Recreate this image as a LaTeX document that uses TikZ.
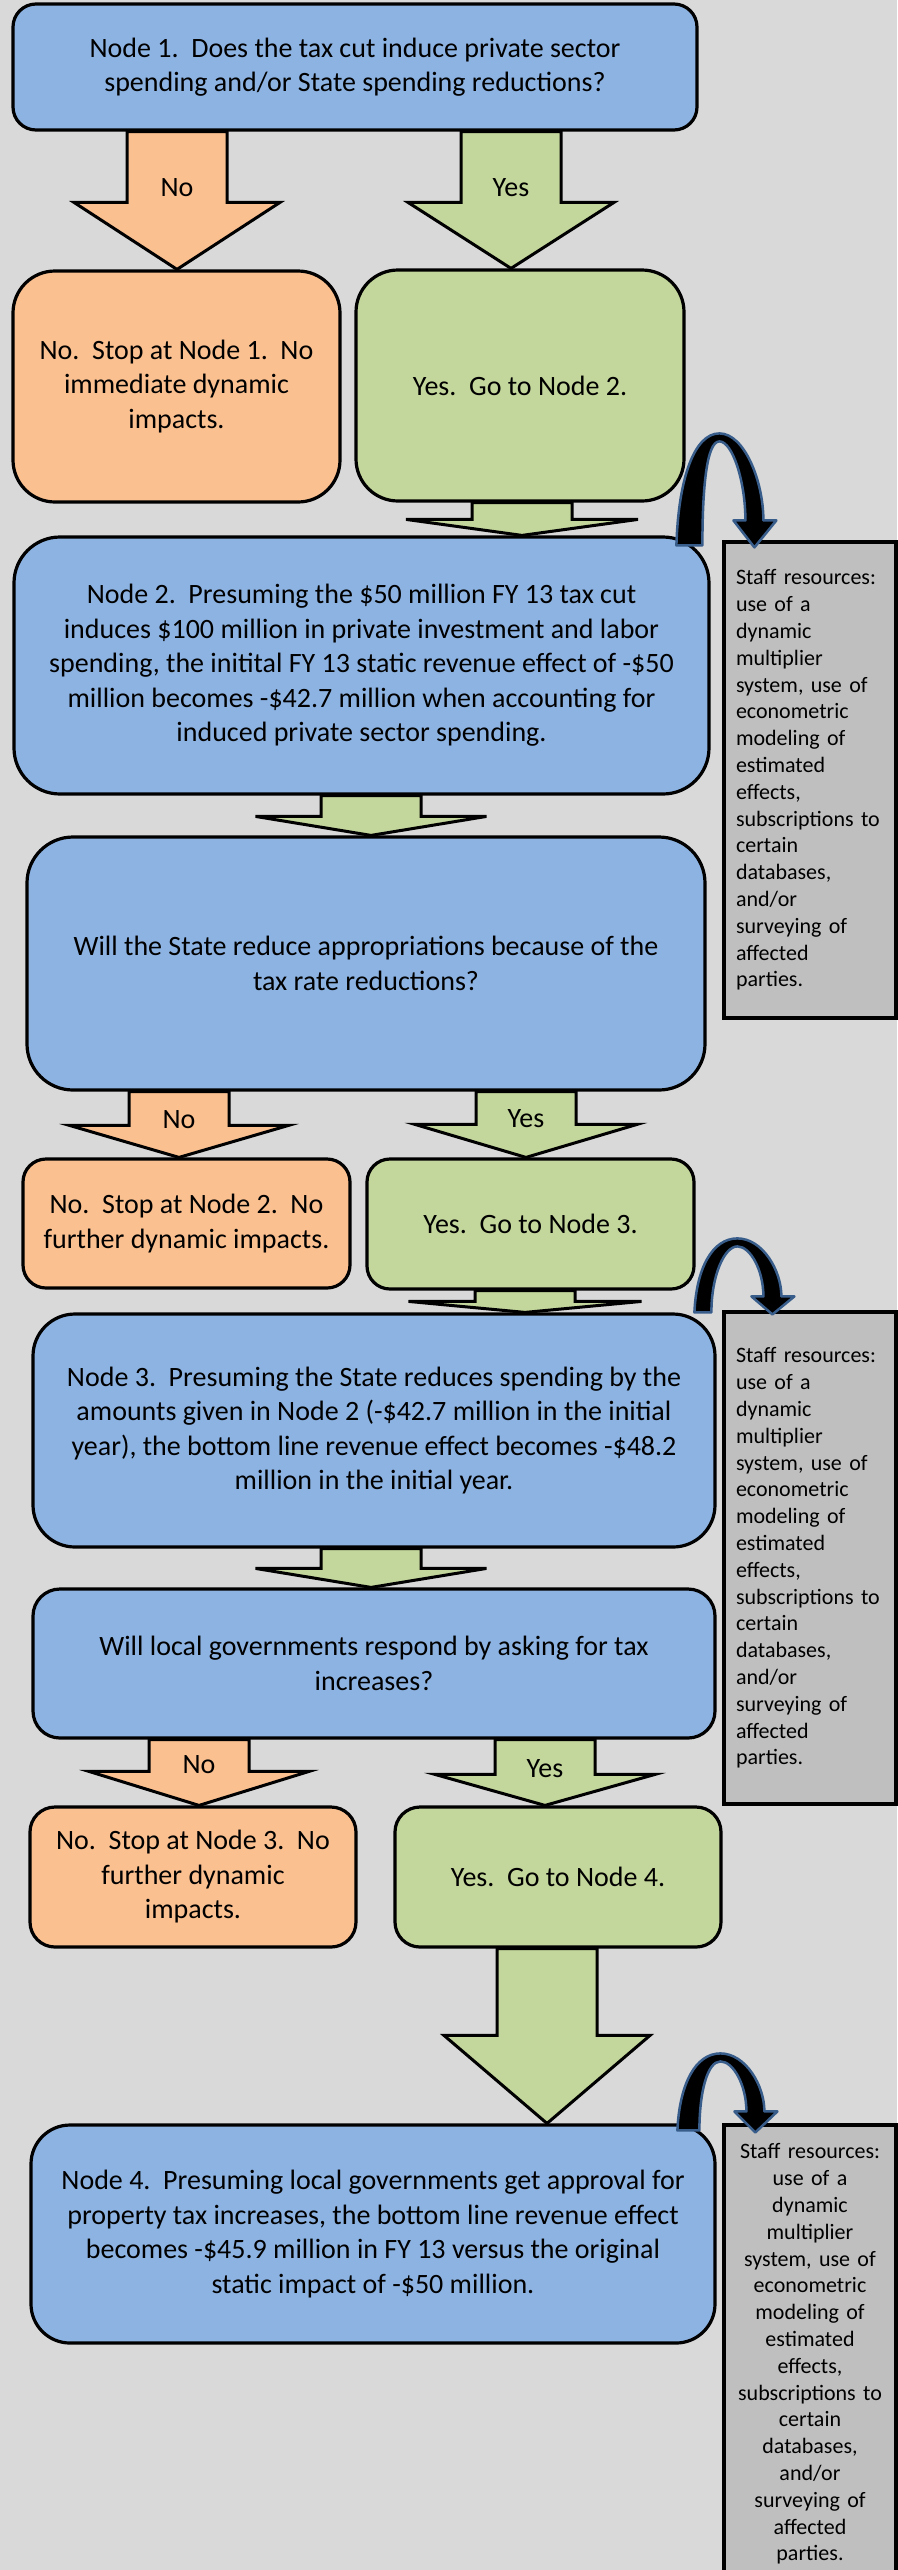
\documentclass[tikz,border=0pt]{standalone}
\usepackage{fontspec}
\setmainfont{Carlito}
\usetikzlibrary{calc}

\definecolor{pagegray}{HTML}{D9D9D9}
\definecolor{nodeblue}{HTML}{8DB3E2}
\definecolor{noorange}{HTML}{FAC090}
\definecolor{yesgreen}{HTML}{C3D69B}
\definecolor{staffgray}{HTML}{BFBFBF}
\definecolor{loopblue}{HTML}{385D8A}

\newcommand{\bodytext}{\fontsize{28}{34.5}\selectfont}
\newcommand{\sidetext}{\fontsize{22}{26.8}\selectfont}

\tikzset{
  box/.style={draw=black, line width=3.2pt, align=center, font=\bodytext, inner sep=0pt},
  nodebox/.style={box, fill=nodeblue},
  nobox/.style={box, fill=noorange},
  yesbox/.style={box, fill=yesgreen},
  staffbox/.style={draw=black, line width=3.2pt, fill=staffgray, font=\sidetext,
    inner ysep=0pt, inner xsep=12pt, text width=148pt},
  blockarrow/.style={draw=black, line width=3pt, line join=miter},
  loopstyle/.style={draw=loopblue, fill=black, line width=2.5pt, line join=round}
}

% wide block arrow: from, to, colour, x centre, head width, head length, label
\newcommand{\fatarrow}[7]{%
  \coordinate (ax) at (#4,0);
  \coordinate (top) at (ax |- #1.south);
  \coordinate (tip) at (ax |- #2.north);
  \draw[blockarrow, fill=#3] ($(top)+(-50,0)$) -- ($(tip)+(-50,-#6)$)
    -- ($(tip)+(-#5/2,-#6)$) -- (tip) -- ($(tip)+(#5/2,-#6)$)
    -- ($(tip)+(50,-#6)$) -- ($(top)+(50,0)$) -- cycle;
  \if\relax\detokenize{#7}\relax\else
    \node[font=\bodytext] (#2label) at ($(tip)+(0,{-1.25*#6+2})$) {#7};
  \fi
}

% bent arrow into a staff box: start, apex height, head height, leg width
\newcommand{\staffloop}[4]{%
  \draw[loopstyle, shift={(#1)}] (0,0) .. controls (2,{-0.6*#2}) and (18,-#2) .. (43,-#2)
    .. controls (68,-#2) and (87,{-#3-0.45*(#2-#3)}) .. (87,-#3)
    -- (100,-#3) -- (78,2) -- (57,-#3) -- (69,-#3)
    .. controls (69,{-#3-0.45*(#2-#3)}) and (56,{-#2+8}) .. (43,{-#2+8})
    .. controls (30,{-#2+8}) and (#4,{-0.5*#2}) .. (#4,0) -- cycle;
}

\begin{document}
\begin{tikzpicture}[x=1pt, y=-1pt]
  \useasboundingbox (0,0) rectangle (897,2570);
  \fill[pagegray] (0,0) rectangle (897,2570);

  % first question
  \node[nodebox, rounded corners=23pt, minimum width=684pt, minimum height=126pt] (node1) at (355,67)
    {Node 1.~~Does the tax cut induce private sector\\ spending and/or State spending reductions?};
  \node[nobox, rounded corners=42pt, minimum width=327pt, minimum height=231pt] (no1) at (176.5,386.5)
    {No.~~Stop at Node 1.~~No\\ immediate dynamic\\ impacts.};
  \node[yesbox, rounded corners=42pt, minimum width=328pt, minimum height=231pt] (yes1) at (520,385.5)
    {Yes.~~Go to Node 2.};

  % private spending
  \node[nodebox, rounded corners=46pt, minimum width=695pt, minimum height=257pt] (node2) at (361.5,665.5)
    {Node 2.~~Presuming the \$50 million FY 13 tax cut\\ induces \$100 million in private investment and labor\\
     spending, the initital FY 13 static revenue effect of -\$50\\ million becomes -\$42.7 million when accounting for\\
     induced private sector spending.};
  \node[nodebox, rounded corners=46pt, minimum width=678pt, minimum height=253pt] (ask2) at (366,963.5)
    {Will the State reduce appropriations because of the\\ tax rate reductions?};
  \node[nobox, rounded corners=23pt, minimum width=327pt, minimum height=129pt] (no2) at (186.5,1223.5)
    {No.~~Stop at Node 2.~~No\\ further dynamic impacts.};
  \node[yesbox, rounded corners=23pt, minimum width=327pt, minimum height=130pt] (yes2) at (530.5,1224)
    {Yes.~~Go to Node 3.};

  % state spending
  \node[nodebox, rounded corners=42pt, minimum width=682pt, minimum height=233pt] (node3) at (374,1430.5)
    {Node 3.~~Presuming the State reduces spending by the\\ amounts given in Node 2 (-\$42.7 million in the initial\\
     year), the bottom line revenue effect becomes -\$48.2\\ million in the initial year.};
  \node[nodebox, rounded corners=27pt, minimum width=682pt, minimum height=149pt] (ask3) at (374,1663.5)
    {Will local governments respond by asking for tax\\ increases?};
  \node[nobox, rounded corners=25pt, minimum width=326pt, minimum height=140pt] (no3) at (193,1877)
    {No.~~Stop at Node 3.~~No\\ further dynamic\\ impacts.};
  \node[yesbox, rounded corners=25pt, minimum width=326pt, minimum height=140pt] (yes3) at (558,1877)
    {Yes.~~Go to Node 4.};

  % local governments
  \node[nodebox, rounded corners=39pt, minimum width=684pt, minimum height=218pt] (node4) at (373,2234)
    {Node 4.~~Presuming local governments get approval for\\ property tax increases, the bottom line revenue effect\\
     becomes -\$45.9 million in FY 13 versus the original\\ static impact of -\$50 million.};

  % staff resource notes
  \node[staffbox, align=left, minimum height=476pt] (staff1) at (810,780)
    {Staff resources:\\ use of a\\ dynamic\\ multiplier\\ system, use of\\ econometric\\ modeling of\\ estimated\\
     effects,\\ subscriptions to\\ certain\\ databases,\\ and/or\\ surveying of\\ affected\\ parties.};
  \node[staffbox, align=left, minimum height=492pt] (staff2) at (810,1558)
    {Staff resources:\\ use of a\\ dynamic\\ multiplier\\ system, use of\\ econometric\\ modeling of\\ estimated\\
     effects,\\ subscriptions to\\ certain\\ databases,\\ and/or\\ surveying of\\ affected\\ parties.};
  \node[staffbox, align=center, minimum height=458pt] (staff3) at (810,2354)
    {Staff resources:\\ use of a\\ dynamic\\ multiplier\\ system, use of\\ econometric\\ modeling of\\ estimated\\
     effects,\\ subscriptions to\\ certain\\ databases,\\ and/or\\ surveying of\\ affected\\ parties.};

  % block arrows
  \fatarrow{node1}{no1}{noorange}{177}{206}{67}{No}
  \fatarrow{node1}{yes1}{yesgreen}{511}{206}{66}{Yes}
  \fatarrow{yes1}{node2}{yesgreen}{522}{232}{16}{}
  \fatarrow{node2}{ask2}{yesgreen}{371}{231}{19}{}
  \fatarrow{ask2}{no2}{noorange}{179}{219}{32}{No}
  \fatarrow{ask2}{yes2}{yesgreen}{526}{222}{33}{Yes}
  \fatarrow{yes2}{node3}{yesgreen}{525}{233}{11}{}
  \fatarrow{node3}{ask3}{yesgreen}{371}{231}{19}{}
  \fatarrow{ask3}{no3}{noorange}{199}{220}{34}{No}
  \fatarrow{ask3}{yes3}{yesgreen}{545}{220}{31}{Yes}
  \fatarrow{yes3}{node4}{yesgreen}{547}{206}{88}{}

  % bent arrows to the staff notes
  \coordinate (loop1) at ($(staff1.north west)+(-46,5)$);
  \coordinate (loop2) at ($(staff2.north west)+(-28,2)$);
  \coordinate (loop3) at ($(staff3.north west)+(-45,7)$);
  \staffloop{loop1}{112}{25}{26}
  \staffloop{loop2}{74}{16}{17}
  \staffloop{loop3}{77}{19}{22}
\end{tikzpicture}
\end{document}
